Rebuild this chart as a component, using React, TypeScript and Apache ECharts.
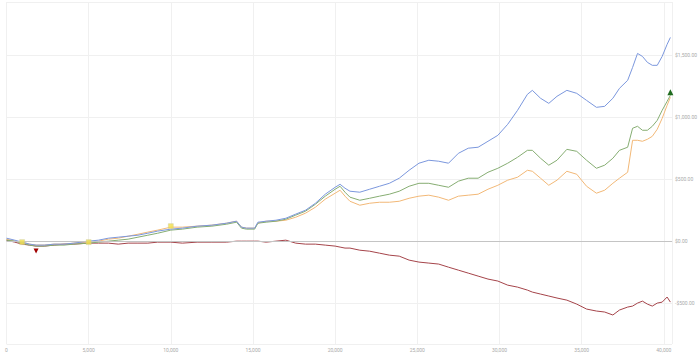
import React, { useEffect, useRef } from "react";
import * as echarts from "echarts";

const tradeIndex = [
  0, 500, 950, 1400, 1800, 2300, 2900, 3500, 4100, 5000, 5600, 6200, 6800, 7400, 8000, 8600, 9200, 10000,
  10700, 11600, 12500, 13400, 14000, 14300, 14600, 15100, 15300, 15800, 16400, 17000, 17600, 18200, 18800,
  19400, 20000, 20300, 20600, 20900, 21500, 22100, 22700, 23300, 23900, 24500, 25100, 25700, 26300, 26900,
  27500, 28100, 28700, 29300, 29900, 30500, 31100, 31700, 32000, 32500, 33000, 33500, 34100, 34700, 35300,
  35900, 36400, 36900, 37300, 37800, 38100, 38400, 38700, 39000, 39300, 39600, 39900, 40200, 40400,
];

const blueValues = [
  24, 8, -8, -24, -32, -32, -24, -24, -16, 0, 8, 24, 32, 40, 48, 64, 81, 97,
  105, 121, 129, 145, 161, 113, 105, 105, 153, 161, 169, 185, 218, 250, 306,
  379, 435, 459, 427, 403, 395, 419, 443, 467, 508, 572, 629, 653, 645, 629,
  709, 750, 758, 806, 854, 943, 1056, 1185, 1217, 1153, 1112, 1169, 1217, 1193, 1136,
  1080, 1088, 1153, 1233, 1298, 1402, 1515, 1491, 1443, 1419, 1419, 1491, 1588, 1644,
];

const greenValues = [
  8, 0, -16, -32, -40, -40, -32, -32, -24, -16, -8, 0, 8, 16, 32, 48, 64, 89,
  97, 113, 121, 137, 153, 105, 97, 97, 145, 153, 161, 177, 210, 242, 298,
  363, 419, 443, 395, 355, 330, 346, 363, 379, 403, 443, 467, 467, 451, 435,
  484, 508, 508, 556, 588, 629, 677, 733, 733, 669, 613, 653, 741, 725, 653,
  588, 613, 669, 733, 758, 911, 927, 895, 895, 927, 975, 1056, 1128, 1177,
];

const orangeValues = [
  16, 0, -8, -24, -32, -32, -24, -24, -16, -8, 0, 16, 24, 40, 56, 73, 89, 113,
  113, 121, 129, 145, 161, 113, 105, 105, 145, 161, 161, 169, 193, 226, 274,
  339, 387, 411, 363, 322, 290, 306, 314, 314, 322, 346, 363, 371, 355, 330,
  363, 371, 379, 419, 451, 492, 516, 572, 564, 508, 451, 492, 564, 540, 443,
  387, 411, 467, 508, 556, 814, 814, 806, 822, 846, 903, 991, 1096, 1161,
];

const redValues = [
  8, -8, -24, -32, -40, -40, -32, -24, -24, -16, -16, -16, -24, -16, -16, -16, -8, -8,
  -16, -8, -8, -8, 0, 0, 0, 0, 0, -8, 0, 8, -16, -24, -24,
  -32, -40, -48, -56, -56, -73, -81, -97, -113, -121, -153, -169, -177, -185, -210,
  -234, -258, -282, -306, -322, -355, -371, -395, -411, -427, -443, -459, -476, -508, -548,
  -564, -572, -596, -556, -532, -524, -500, -484, -508, -524, -500, -492, -451, -492,
];

const entryX = [950, 5000, 10000];
const entryY = [-8, -8, 121];

const xTicks = [0, 5000, 10000, 15000, 20000, 25000, 30000, 35000, 40000];
const yTicks = [-500, 0, 500, 1000, 1500];

const pairs = (vals: number[]) => tradeIndex.map((x, i) => [x, vals[i]]);

export default function App() {
  const ref = useRef<HTMLDivElement>(null);
  useEffect(() => {
    document.body.style.margin = "0";
    if (!ref.current) return;
    const chart = echarts.init(ref.current, null, { renderer: "svg" });
    const lastI = tradeIndex.length - 1;
    chart.setOption({
      animation: false,
      backgroundColor: "#ffffff",
      grid: { left: 6.5, right: 20, top: 2, bottom: 11, containLabel: false },
      xAxis: {
        type: "value",
        min: 0,
        max: 40500,
        interval: 5000,
        axisLine: { show: true, lineStyle: { color: "#e6e6e6" } },
        axisTick: { show: false },
        splitLine: { show: true, lineStyle: { color: "#f0f0f0", width: 1 } },
        axisLabel: {
          fontSize: 5,
          color: "#aaaaaa",
          margin: 3,
          fontFamily: "Roboto",
          showMaxLabel: false,
          formatter: (v: number) => (xTicks.includes(v) ? v.toLocaleString("en-US") : ""),
        },
      },
      yAxis: {
        type: "value",
        position: "right",
        min: -830,
        max: 1930,
        splitNumber: 5,
        axisLine: { show: false },
        axisTick: { show: false },
        splitLine: { show: true, lineStyle: { color: "#f0f0f0", width: 1 } },
        axisLabel: {
          fontSize: 5,
          color: "#aaaaaa",
          margin: 3,
          fontFamily: "Roboto",
          formatter: (v: number) => {
            if (!yTicks.includes(v)) return "";
            const s = "$" + Math.abs(v).toLocaleString("en-US", { minimumFractionDigits: 2, maximumFractionDigits: 2 });
            return v < 0 ? "-" + s : s;
          },
        },
      },
      series: [
        {
          type: "line",
          name: "red",
          data: pairs(redValues),
          showSymbol: false,
          symbol: "none",
          lineStyle: { color: "#a5444a", width: 1 },
          itemStyle: { color: "#a5444a" },
          markLine: {
            silent: true,
            symbol: "none",
            label: { show: false },
            lineStyle: { color: "#c4c4c4", type: "solid", width: 1 },
            data: [{ yAxis: 0 }],
          },
          markPoint: {
            symbol: "triangle",
            symbolSize: 5,
            symbolRotate: 180,
            symbolOffset: [0, 5],
            label: { show: false },
            itemStyle: { color: "#a00000" },
            data: [{ coord: [tradeIndex[4], redValues[4]] }],
          },
        },
        {
          type: "line",
          name: "orange",
          data: pairs(orangeValues),
          showSymbol: false,
          symbol: "none",
          lineStyle: { color: "#f2b877", width: 1 },
          itemStyle: { color: "#f2b877" },
        },
        {
          type: "line",
          name: "green",
          data: pairs(greenValues),
          showSymbol: false,
          symbol: "none",
          lineStyle: { color: "#86ad72", width: 1 },
          itemStyle: { color: "#86ad72" },
          markPoint: {
            symbol: "triangle",
            symbolSize: 6,
            symbolOffset: [0, -3],
            label: { show: false },
            itemStyle: { color: "#1f6b1f" },
            data: [{ coord: [tradeIndex[lastI], greenValues[lastI]] }],
          },
        },
        {
          type: "line",
          name: "blue",
          data: pairs(blueValues),
          showSymbol: false,
          symbol: "none",
          lineStyle: { color: "#7b97dd", width: 1 },
          itemStyle: { color: "#7b97dd" },
        },
        {
          type: "scatter",
          name: "entries",
          data: entryX.map((x, i) => [x, entryY[i]]),
          symbol: "rect",
          symbolSize: 5,
          itemStyle: { color: "#f3e04a", borderColor: "#c9c9a0", borderWidth: 0.5 },
          z: 5,
        },
      ],
    });
    return () => chart.dispose();
  }, []);
  return <div ref={ref} style={{ width: 700, height: 355 }} />;
}
